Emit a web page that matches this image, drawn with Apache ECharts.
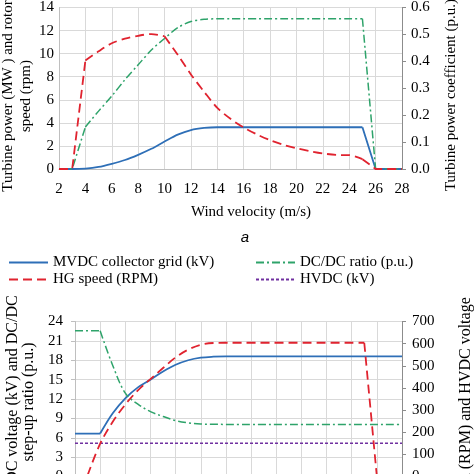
<!DOCTYPE html>
<html>
<head>
<meta charset="utf-8">
<script src="https://cdn.jsdelivr.net/npm/echarts@6/dist/echarts.min.js"></script>
<style>
html,body{margin:0;padding:0;background:#fff;overflow:hidden;}
#c{width:474px;height:600px;}
</style>
</head>
<body>
<div id="c"></div>
<script>
// ---------- data ----------
var wind = [2,3,4,5,6,7,8,9,10,11,12,13,14,15,16,17,18,19,20,21,22,23,24,25,26,27,28];

// chart a (top)
var turbinePower = [0,0,0.04,0.18,0.45,0.78,1.23,1.75,2.38,2.98,3.38,3.56,3.62,3.62,3.62,3.62,3.62,3.62,3.62,3.62,3.62,3.62,3.62,3.62,0,0,0];
var rotorSpeed   = [0,0,9.4,10.2,10.9,11.3,11.55,11.7,11.5,9.9,8.2,6.7,5.3,4.35,3.6,3.0,2.5,2.1,1.8,1.55,1.35,1.22,1.2,0.85,0,0,0];
var powerCoeff   = [0,0,0.156,0.215,0.271,0.332,0.387,0.442,0.485,0.525,0.548,0.556,0.558,0.558,0.558,0.558,0.558,0.558,0.558,0.558,0.558,0.558,0.558,0.558,0,0,0];

// chart b (bottom)
var mvdcVoltage = [6.65,6.65,6.65,9.8,12.1,13.8,15.0,16.25,17.3,18.0,18.4,18.55,18.6,18.6,18.6,18.6,18.6,18.6,18.6,18.6,18.6,18.6,18.6,18.6,18.6,18.6,18.6];
var dcdcRatio   = [22.55,22.55,22.55,17.2,12.9,11.2,10.05,9.3,8.65,8.3,8.12,8.08,8.07,8.07,8.07,8.07,8.07,8.07,8.07,8.07,8.07,8.07,8.07,8.07,8.07,8.07,8.07];
var hgSpeed     = [0,5,148,247,325,389,440,490,538,573,595,603,604,604,604,604,604,604,604,604,604,604,604,604,0,0,0];
var hvdcVoltage = [150,150,150,150,150,150,150,150,150,150,150,150,150,150,150,150,150,150,150,150,150,150,150,150,150,150,150];

var names = ['MVDC collector grid (kV)','DC/DC ratio (p.u.)','HG speed (RPM)','HVDC (kV)'];

// ---------- helpers ----------
function seg(ys, a, b){
  var out=[];
  for (var i=0;i<wind.length;i++){ if (wind[i]>=a && wind[i]<=b) out.push([wind[i], ys[i]]); }
  return out;
}
var SERIF = '"Liberation Serif","Times New Roman",serif';
var BLUE='#2e6fb7', RED='#e0232f', GREEN='#2ea36a', PURPLE='#7030a0';
var blueLS={color:BLUE,width:1.8,type:'solid'};
var redLS={color:RED,width:1.8,type:[9,5]};
var greenLS={color:GREEN,width:1.5,type:[8,3,2,3]};
var purpleLS={color:PURPLE,width:1.5,type:[3,2]};
function line(name, data, xi, yi, ls, smooth, z){
  return {type:'line', name:name, data:data, xAxisIndex:xi, yAxisIndex:yi, symbol:'none',
    smooth:smooth||false, lineStyle:ls, itemStyle:{color:ls.color}, z:z||2, silent:true, animation:false};
}

var axisLbl = {color:'#000', fontFamily:SERIF, fontSize:15};
var gridLine = {show:true, lineStyle:{color:'#d9d9d9', width:1}};

var option = {
  animation:false,
  backgroundColor:'#fff',
  grid:[
    {left:59, top:3, width:343, height:166},
    {left:75, top:321.5, width:327, height:155}
  ],
  xAxis:[
    {gridIndex:0, type:'value', min:2, max:28, interval:2,
     axisLine:{show:true, onZero:false, lineStyle:{color:'#bfbfbf'}}, axisTick:{show:false},
     axisLabel:Object.assign({margin:13}, axisLbl), splitLine:gridLine},
    {gridIndex:1, type:'value', min:2, max:28, interval:2,
     axisLine:{show:true, onZero:false, lineStyle:{color:'#bfbfbf'}}, axisTick:{show:false},
     axisLabel:Object.assign({margin:13}, axisLbl), splitLine:gridLine}
  ],
  yAxis:[
    {gridIndex:0, type:'value', min:0, max:14, interval:2, position:'left',
     axisLine:{show:true, lineStyle:{color:'#bfbfbf'}}, axisTick:{show:false},
     axisLabel:Object.assign({margin:5}, axisLbl), splitLine:gridLine},
    {gridIndex:0, type:'value', min:0, max:0.6, interval:0.1, position:'right',
     axisLine:{show:true, lineStyle:{color:'#8c8c8c'}}, axisTick:{show:true, length:4, lineStyle:{color:'#8c8c8c'}},
     axisLabel:Object.assign({margin:9, formatter:function(v){return v.toFixed(1);}}, axisLbl), splitLine:{show:false}},
    {gridIndex:1, type:'value', min:0, max:24, interval:3, position:'left',
     axisLine:{show:true, lineStyle:{color:'#bfbfbf'}}, axisTick:{show:true, length:4, lineStyle:{color:'#bfbfbf'}},
     axisLabel:Object.assign({margin:12}, axisLbl), splitLine:gridLine},
    {gridIndex:1, type:'value', min:0, max:700, interval:100, position:'right',
     axisLine:{show:true, lineStyle:{color:'#8c8c8c'}}, axisTick:{show:true, length:4, lineStyle:{color:'#8c8c8c'}},
     axisLabel:Object.assign({margin:10}, axisLbl), splitLine:{show:false}}
  ],
  legend:[0,1,2,3].map(function(i){
    return {data:[names[i]], left:(i%2===0?8:255), top:(i<2?255:272), itemWidth:39, itemHeight:14, itemGap:5,
      textStyle:{color:'#000', fontFamily:SERIF, fontSize:15, padding:[0,0,0,0]}, padding:0,
      itemStyle:{opacity:0}, selectedMode:false};
  }),
  series:[
    // top chart
    line('tp', seg(turbinePower,2,25), 0,0, blueLS, 0.3, 2),
    line('tp2', seg(turbinePower,25,28), 0,0, blueLS, false, 2),
    line('cp', seg(powerCoeff,2,4), 0,1, greenLS, false, 3),
    line('cp2', seg(powerCoeff,4,25), 0,1, greenLS, 0.3, 3),
    line('cp3', seg(powerCoeff,25,28), 0,1, greenLS, false, 3),
    line('rs', seg(rotorSpeed,2,4), 0,0, redLS, false, 4),
    line('rs2', seg(rotorSpeed,4,10), 0,0, redLS, 0.3, 4),
    line('rs3', seg(rotorSpeed,10,25), 0,0, redLS, 0.3, 4),
    line('rs4', seg(rotorSpeed,25,28), 0,0, redLS, false, 4),
    // bottom chart
    line(names[0], seg(mvdcVoltage,2,4), 1,2, blueLS, false, 2),
    line(names[0], seg(mvdcVoltage,4,28), 1,2, blueLS, 0.35, 2),
    line(names[1], seg(dcdcRatio,2,4), 1,2, greenLS, false, 3),
    line(names[1], seg(dcdcRatio,4,28), 1,2, greenLS, 0.35, 3),
    line(names[2], seg(hgSpeed,3,25), 1,3, redLS, 0.35, 4),
    line(names[2], seg(hgSpeed,2,3), 1,3, redLS, false, 4),
    line(names[2], seg(hgSpeed,25,28), 1,3, redLS, false, 4),
    line(names[3], seg(hvdcVoltage,2,28), 1,3, purpleLS, false, 3)
  ],
  graphic:[
    {type:'text', x:17, y:96, rotation:Math.PI/2, style:{text:'Turbine power (MW ) and rotor\nspeed (rpm)', font:'15px '+SERIF, align:'center', verticalAlign:'middle', lineHeight:18, fill:'#000'}},
    {type:'text', x:451, y:95, rotation:Math.PI/2, style:{text:'Turbine power coefficient (p.u.)', font:'15px '+SERIF, align:'center', verticalAlign:'middle', fill:'#000'}},
    {type:'text', x:251, y:212, style:{text:'Wind velocity (m/s)', font:'15px '+SERIF, align:'center', verticalAlign:'middle', fill:'#000'}},
    {type:'text', x:245, y:238, style:{text:'a', font:'italic 15px "Liberation Sans",Arial,sans-serif', align:'center', verticalAlign:'middle', fill:'#000'}},
    {type:'text', x:20.5, y:402, rotation:Math.PI/2, style:{text:'MVDC voltage (kV) and DC/DC\nstep-up ratio (p.u.)', font:'16px '+SERIF, align:'center', verticalAlign:'middle', lineHeight:16, fill:'#000'}},
    {type:'text', x:474, y:417, rotation:Math.PI/2, style:{text:'HG speed (RPM) and HVDC voltage\n(kV)', font:'16px '+SERIF, align:'center', verticalAlign:'middle', lineHeight:16, fill:'#000'}}
  ]
};
var chart = echarts.init(document.getElementById('c'), null, {renderer:'canvas'});
chart.setOption(option);
</script>
</body>
</html>
